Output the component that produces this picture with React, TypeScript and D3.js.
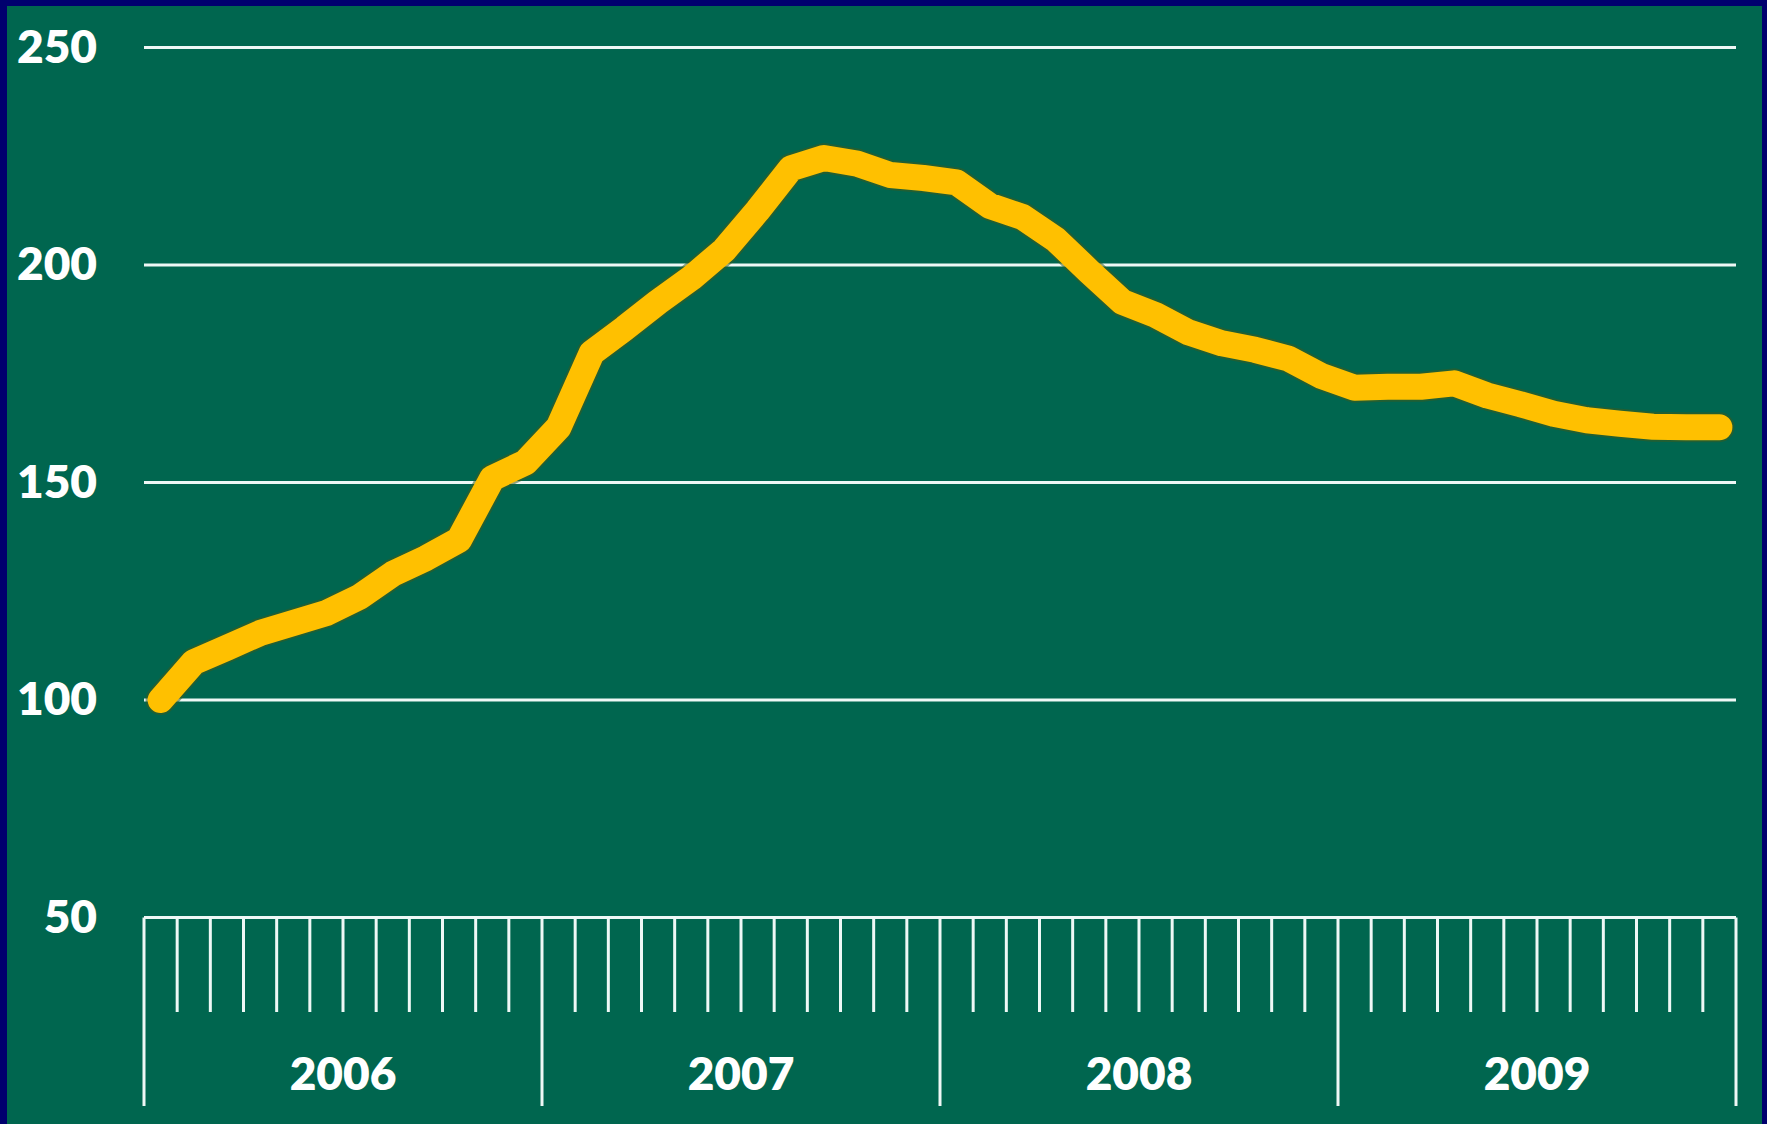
import React from 'react';
import * as d3 from 'd3';

// Index values, monthly, Jan 2006 - Dec 2009
const years = ['2006', '2007', '2008', '2009'];
const yTicks = [50, 100, 150, 200, 250];
const indexValues = [
  100, 108.7, 112, 115.4, 117.7, 120, 123.7, 129, 132.6, 136.8, 151, 154.6,
  162.7, 179.8, 185.5, 191.5, 197, 203.5, 212.5, 222.2, 224.6, 223.3, 220.7, 220,
  219, 213.6, 211, 205.8, 198.5, 191.5, 188.5, 184.5, 182, 180.5, 178.5, 174.5,
  171.8, 172, 172, 172.8, 170, 168, 165.8, 164.3, 163.5, 162.8, 162.7, 162.7,
];

const W = 1767;
const H = 1124;

export default function App() {
  const months = indexValues.length;

  const x = d3.scaleLinear().domain([0, months]).range([144, 1736]);
  const y = d3.scaleLinear().domain([50, 250]).range([917.5, 47.5]);

  const line = d3
    .line<number>()
    .x((_, i) => x(i + 0.5))
    .y(d => y(d))
    .curve(d3.curveLinear);

  const axisY = y(50);
  const font = 'Lato, "Open Sans", sans-serif';

  return (
    <div style={{ position: 'fixed', left: 0, top: 0 }}>
      <svg width={W} height={H} style={{ display: 'block' }}>
        <rect x={0} y={0} width={W} height={H} fill="#00006e" />
        <rect x={7} y={6} width={1762 - 7} height={H - 6} fill="#00664f" />

        {/* gridlines */}
        {yTicks
          .filter(t => t > 50)
          .map(t => (
            <line
              key={t}
              x1={x(0)}
              x2={x(months)}
              y1={y(t)}
              y2={y(t)}
              stroke="#eef8f6"
              strokeWidth={3}
            />
          ))}

        {/* y labels */}
        {yTicks.map(t => (
          <text
            key={t}
            x={97}
            y={y(t) + 15}
            textAnchor="end"
            fill="#ffffff"
            fontFamily={font}
            fontWeight={800}
            fontSize={46}
          >
            {t}
          </text>
        ))}

        {/* x axis */}
        <line x1={x(0)} x2={x(months)} y1={axisY} y2={axisY} stroke="#eef8f6" strokeWidth={3} />
        {d3.range(0, months + 1).map(i => {
          const long = i % 12 === 0;
          return (
            <line
              key={i}
              x1={x(i)}
              x2={x(i)}
              y1={axisY}
              y2={long ? 1106 : 1012}
              stroke="#eef8f6"
              strokeWidth={3}
            />
          );
        })}
        {years.map((yr, k) => (
          <text
            key={yr}
            x={x(k * 12 + 6)}
            y={1090}
            textAnchor="middle"
            fill="#ffffff"
            fontFamily={font}
            fontWeight={800}
            fontSize={46}
          >
            {yr}
          </text>
        ))}

        {/* series */}
        <path
          d={line(indexValues) || ''}
          fill="none"
          stroke="#3d5a1e"
          strokeOpacity={0.55}
          strokeWidth={30}
          strokeLinejoin="round"
          strokeLinecap="round"
        />
        <path
          d={line(indexValues) || ''}
          fill="none"
          stroke="#ffc000"
          strokeWidth={26}
          strokeLinejoin="round"
          strokeLinecap="round"
        />
      </svg>
    </div>
  );
}
